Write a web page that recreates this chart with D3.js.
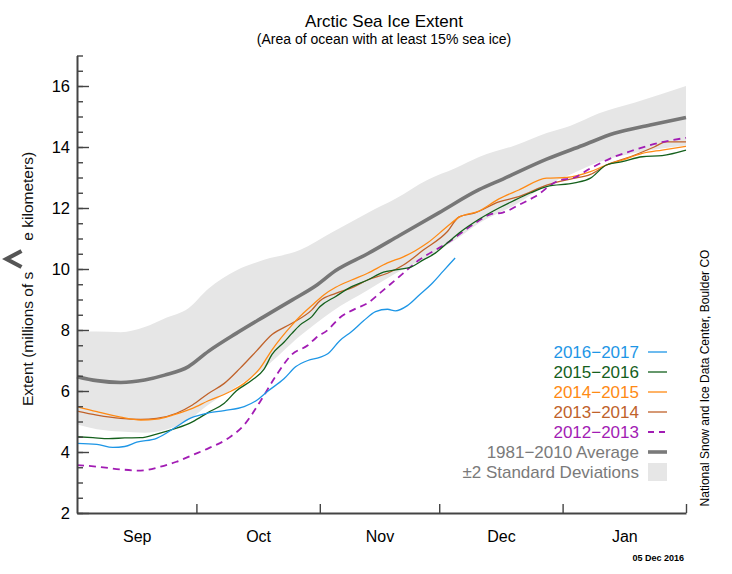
<!DOCTYPE html>
<html>
<head>
<meta charset="utf-8">
<script src="https://cdn.jsdelivr.net/npm/d3@7"></script>
<style>
  body { margin: 0; background: #fff; }
  svg { font-family: "Liberation Sans", Arial, Helvetica, sans-serif; }
</style>
</head>
<body>
<div id="chart"></div>
<script>
// days counted from Sep 1 (0) to Feb 1 (153)
var months = ["Sep", "Oct", "Nov", "Dec", "Jan"];
var monthStarts = [30, 61, 91, 122, 153];
var monthMids = [15, 45.5, 76, 106.5, 137.5];
var yMajor = [2, 4, 6, 8, 10, 12, 14, 16];

// 1981-2010 average and +/-2 std dev band
var avgLine = [[0,6.47],[5,6.34],[11,6.28],[17,6.36],[22,6.52],[28,6.8],[33,7.3],[40,7.89],[47,8.44],[54,8.98],[60,9.45],[65,9.95],[73,10.5],[81,11.1],[91,11.85],[101,12.6],[107,12.95],[118,13.6],[127,14.05],[135,14.45],[144,14.72],[153,14.97]];
var bandDays = [0,5,11,17,22,28,33,40,47,56,64,73,80,88,95,101,110,118,124,131,140,153];
var bandHigh = [7.95,7.95,7.93,8.1,8.38,8.71,9.35,9.95,10.3,10.62,11.2,11.84,12.3,12.92,13.3,13.67,14.05,14.46,14.7,15.1,15.45,16.0];
var bandLow = [4.9,4.75,4.67,4.63,4.72,5.05,5.55,6.14,6.75,7.8,8.6,9.3,9.85,10.4,10.95,11.5,12.1,12.75,13.1,13.5,13.8,14.05];

var s2016 = [[0,4.28],[5,4.25],[9,4.15],[12,4.18],[15,4.32],[20,4.45],[25,4.83],[28,5.08],[32,5.25],[37,5.36],[42,5.49],[45,5.68],[48,6.0],[52,6.4],[55,6.8],[58,7.0],[61,7.1],[63,7.22],[66,7.65],[69,7.95],[72,8.3],[75,8.6],[78,8.68],[80,8.63],[83,8.8],[86,9.15],[89,9.5],[92,9.93],[95,10.36]];
var s2015 = [[0,4.5],[4,4.47],[8,4.44],[12,4.46],[16,4.47],[20,4.59],[25,4.78],[29,4.99],[33,5.3],[37,5.6],[40,6.0],[44,6.36],[47,6.72],[49,7.2],[52,7.6],[54,7.89],[56,8.16],[59,8.44],[61,8.76],[65,9.1],[69,9.42],[73,9.64],[77,9.9],[80,9.97],[84,10.07],[87,10.3],[90,10.52],[93,10.85],[96,11.18],[101,11.63],[106,12.0],[110,12.26],[114,12.5],[118,12.7],[125,12.82],[129,12.98],[133,13.41],[137,13.52],[142,13.68],[147,13.72],[153,13.9]];
var s2014 = [[0,5.49],[5,5.32],[11,5.14],[16,5.05],[20,5.08],[24,5.21],[29,5.43],[33,5.68],[38,5.95],[42,6.25],[46,6.75],[49,7.35],[54,8.16],[56,8.44],[59,8.8],[62,9.15],[65,9.4],[69,9.64],[73,9.86],[78,10.2],[82,10.4],[85,10.6],[88,10.85],[93,11.39],[96,11.7],[101,11.9],[106,12.3],[111,12.59],[118,12.98],[123,13.0],[129,13.19],[133,13.41],[137,13.57],[142,13.79],[147,13.9],[153,14.02]];
var s2013 = [[0,5.34],[5,5.21],[11,5.1],[16,5.07],[20,5.1],[25,5.27],[29,5.54],[33,5.92],[37,6.25],[41,6.75],[45,7.3],[49,7.85],[54,8.22],[59,8.66],[61,8.95],[65,9.2],[69,9.38],[73,9.64],[78,9.86],[82,10.13],[87,10.62],[93,11.22],[96,11.71],[100,11.84],[106,12.2],[111,12.37],[118,12.75],[124,12.95],[129,13.1],[133,13.41],[139,13.68],[145,14.0],[148,14.17],[153,14.17]];
var s2012 = [[0,3.57],[5,3.52],[11,3.43],[16,3.39],[21,3.52],[25,3.68],[29,3.9],[33,4.12],[38,4.45],[42,4.89],[46,5.65],[50,6.5],[54,7.2],[58,7.5],[60,7.74],[63,8.0],[66,8.4],[70,8.7],[73,8.88],[76,9.2],[80,9.64],[86,10.3],[93,10.85],[100,11.5],[104,11.8],[107,11.85],[111,12.1],[115,12.37],[121,12.9],[125,13.0],[129,13.3],[135,13.68],[140,13.9],[146,14.13],[153,14.3]];

var legendLabels = ["2016\u22122017", "2015\u22122016", "2014\u22122015", "2013\u22122014", "2012\u22122013", "1981\u22122010 Average", "\u00b12 Standard Deviations"];
var legendColors = ["#1e96e6", "#14601c", "#ff8a14", "#c0622a", "#a21cb4", "#7a7a7a", "#7a7a7a"];

var svgWidth = 732;
var svgHeight = 574;
var margin = { top: 55.5, right: 46, bottom: 61, left: 77 };
var width = svgWidth - margin.left - margin.right;
var height = svgHeight - margin.top - margin.bottom;

var svg = d3.select("#chart").append("svg")
  .attr("width", svgWidth)
  .attr("height", svgHeight);

var chartGroup = svg.append("g")
  .attr("transform", `translate(${margin.left}, ${margin.top})`);

var x = d3.scaleLinear().domain([0, 153]).range([0, width]);
var y = d3.scaleLinear().domain([2, 17]).range([height, 0]);

// std dev band
var band = d3.area()
  .x((d, i) => x(bandDays[i]))
  .y0((d, i) => y(bandLow[i]))
  .y1((d, i) => y(bandHigh[i]))
  .curve(d3.curveMonotoneX);
chartGroup.append("path")
  .attr("d", band(bandDays))
  .attr("fill", "#e6e6e6");

var line = d3.line()
  .x(d => x(d[0]))
  .y(d => y(d[1]))
  .curve(d3.curveMonotoneX);

chartGroup.append("path")
  .attr("d", line(avgLine))
  .attr("fill", "none")
  .attr("stroke", "#777")
  .attr("stroke-width", 3.6);

var series = [
  { data: s2013, color: legendColors[3], dash: null },
  { data: s2014, color: legendColors[2], dash: null },
  { data: s2012, color: legendColors[4], dash: "7,5" },
  { data: s2015, color: legendColors[1], dash: null },
  { data: s2016, color: legendColors[0], dash: null }
];
series.forEach(function(s) {
  chartGroup.append("path")
    .attr("d", line(s.data))
    .attr("fill", "none")
    .attr("stroke", s.color)
    .attr("stroke-width", s.dash ? 1.8 : 1.3)
    .attr("stroke-dasharray", s.dash);
});

// axes
var axisColor = "#444";
var yMinor = chartGroup.append("g")
  .call(d3.axisLeft(y).tickValues(d3.range(2, 17.01, 0.5)).tickSize(-6).tickSizeOuter(0).tickFormat(""));
var yAxis = chartGroup.append("g")
  .call(d3.axisLeft(y).tickValues(yMajor).tickSize(-12).tickSizeOuter(0).tickPadding(7));
yAxis.select(".domain").remove();
yAxis.selectAll("text").attr("font-size", 16.5).attr("fill", "#000")
  .attr("font-family", "'Liberation Sans', Arial, sans-serif");

var xAxis = chartGroup.append("g")
  .attr("transform", `translate(0, ${height})`)
  .call(d3.axisBottom(x).tickValues(monthStarts).tickSize(-9).tickSizeOuter(0).tickFormat(""));
var xLabels = chartGroup.append("g")
  .attr("transform", `translate(0, ${height})`)
  .call(d3.axisBottom(x).tickValues(monthMids).tickSize(0).tickPadding(18).tickFormat((d, i) => months[i]));
xLabels.select(".domain").remove();
xLabels.selectAll("text").attr("font-size", 16).attr("fill", "#000")
  .attr("font-family", "'Liberation Sans', Arial, sans-serif");

[yMinor, yAxis, xAxis].forEach(function(g) {
  g.selectAll("line").attr("stroke", axisColor).attr("stroke-width", 1.4);
  g.selectAll(".domain").attr("stroke", axisColor).attr("stroke-width", 2);
});

// titles
svg.append("text")
  .attr("x", 384).attr("y", 27)
  .attr("text-anchor", "middle")
  .attr("font-size", 17)
  .text("Arctic Sea Ice Extent");
svg.append("text")
  .attr("x", 384).attr("y", 44)
  .attr("text-anchor", "middle")
  .attr("font-size", 14)
  .text("(Area of ocean with at least 15% sea ice)");

// y label, partly hidden in the picture behind a nav arrow
var ylab = svg.append("text")
  .attr("transform", "translate(33, 279) rotate(-90)")
  .attr("text-anchor", "middle")
  .attr("font-size", 15.5)
  .attr("fill", "#111");
ylab.append("tspan").text("Extent (millions of s");
ylab.append("tspan").attr("dx", 31).text("e kilometers)");

svg.append("path")
  .attr("d", "M21.5,251 L6.5,259 L21.5,267")
  .attr("fill", "none")
  .attr("stroke", "#555")
  .attr("stroke-width", 4.2);

// credit + date
svg.append("text")
  .attr("transform", "translate(709, 378) rotate(-90)")
  .attr("text-anchor", "middle")
  .attr("font-size", 12)
  .text("National Snow and Ice Data Center, Boulder CO");
svg.append("text")
  .attr("x", 684).attr("y", 561)
  .attr("text-anchor", "end")
  .attr("font-size", 9)
  .attr("font-weight", "bold")
  .text("05 Dec 2016");

// legend
var legend = svg.append("g");
legendLabels.forEach(function(label, i) {
  var ly = 352 + i * 20;
  legend.append("text")
    .attr("x", 639).attr("y", ly)
    .attr("dy", "0.35em")
    .attr("text-anchor", "end")
    .attr("font-size", 17)
    .attr("fill", legendColors[i])
    .text(label);
  if (i === 6) {
    legend.append("rect")
      .attr("x", 648).attr("y", ly - 9)
      .attr("width", 19).attr("height", 18)
      .attr("fill", "#e6e6e6");
  } else {
    legend.append("line")
      .attr("x1", 648).attr("x2", 667)
      .attr("y1", ly).attr("y2", ly)
      .attr("stroke", legendColors[i])
      .attr("stroke-width", i === 5 ? 3.6 : (i === 4 ? 1.8 : 1.3))
      .attr("stroke-dasharray", i === 4 ? "6,5" : null);
  }
});
</script>
</body>
</html>
